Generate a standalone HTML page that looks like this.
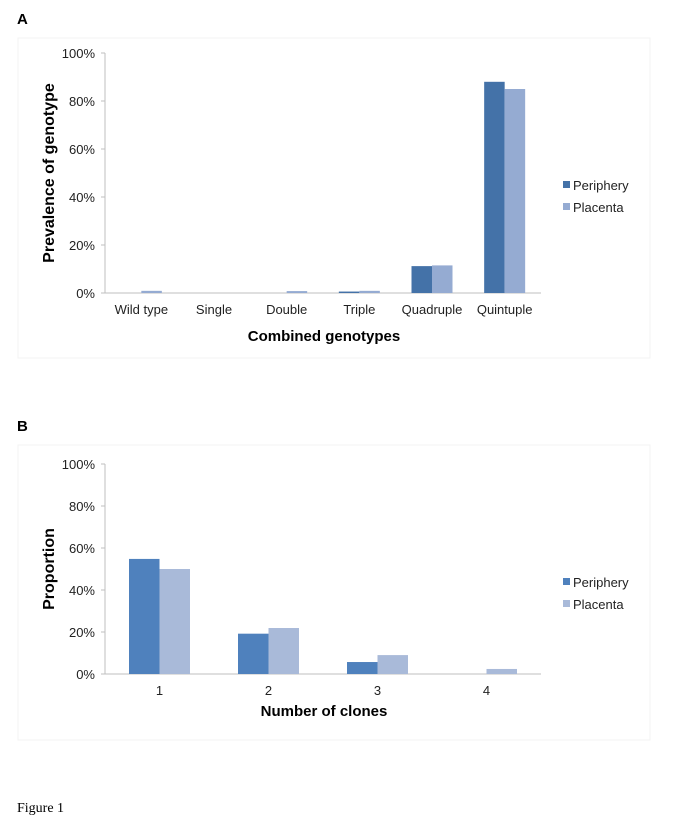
<!DOCTYPE html>
<html><head><meta charset="utf-8"><style>
body{margin:0;background:#fff;font-family:"Liberation Sans",sans-serif;}
svg{display:block}
</style></head><body>
<svg width="685" height="820" xmlns="http://www.w3.org/2000/svg">
<rect x="18" y="38" width="632" height="320" fill="none" stroke="#f3f3f3"/>
<rect x="18" y="445" width="632" height="295" fill="none" stroke="#f3f3f3"/>
<text x="17" y="24" font-size="15" font-weight="bold">A</text>
<text x="17" y="431" font-size="15" font-weight="bold">B</text>
<text x="17" y="812" font-size="14" font-family="Liberation Serif, serif">Figure 1</text>
<g id="ga"></g><g id="gb"></g>
</svg>
<script>
const catsA=["Wild type","Single","Double","Triple","Quadruple","Quintuple"];
const periA=[0,0,0,0.6,11.2,88];
const placA=[0.9,0,0.8,0.9,11.5,85];
const catsB=["1","2","3","4"];
const periB=[54.8,19.2,5.7,0];
const placB=[50,21.9,9,2.4];
const yTicks=["0%","20%","40%","60%","80%","100%"];
const NS="http://www.w3.org/2000/svg";
function mk(p,t,a){const e=document.createElementNS(NS,t);for(const k in a)e.setAttribute(k,a[k]);p.appendChild(e);return e;}
function chart(g,cats,s1,s2,o){
  const x0=105,x1=541,y0=o.y0,y1=o.y1;
  const ys=v=>y0-(v/100)*(y0-y1);
  const band=(x1-x0)/cats.length;
  const ax=mk(g,'line',{x1:x0,y1:y1,x2:x0,y2:y0,stroke:'#bfbfbf'});
  
  yTicks.forEach((t,i)=>{const y=ys(i*20);
    const tk=mk(g,'line',{x1:x0-4,y1:y,x2:x0,y2:y,stroke:'#bfbfbf'});
    
    const tx=mk(g,'text',{x:x0-10,y:y+5,'font-size':13,'text-anchor':'end',fill:'#222'});tx.textContent=t;
    });
  const xa=mk(g,'line',{x1:x0,y1:y0,x2:x1,y2:y0,stroke:'#bfbfbf'});
  
  cats.forEach((c,i)=>{const cx=x0+band*(i+0.5);
    [[s1,o.c1,-1],[s2,o.c2,0]].forEach(([s,col,off])=>{const v=s[i];
      const r=mk(g,'rect',{x:cx+off*o.bw,y:ys(v),width:o.bw,height:y0-ys(v),fill:col});
      });
    const tx=mk(g,'text',{x:cx,y:o.ty,'font-size':13,'text-anchor':'middle',fill:'#222'});tx.textContent=c;
    });
  const yt=mk(g,'text',{x:0,y:0,'font-size':16,'font-weight':'bold','text-anchor':'middle',transform:`translate(54,${(y0+y1)/2}) rotate(-90)`});
  yt.textContent=o.yl;
  const xt=mk(g,'text',{x:324,y:o.xty,'font-size':15,'font-weight':'bold','text-anchor':'middle'});
  xt.textContent=o.xl;
  [["Periphery",o.c1,o.ly],["Placenta",o.c2,o.ly+22]].forEach(([n,c,y])=>{
    const r=mk(g,'rect',{x:563,y:y-4,width:7,height:7,fill:c});
    
    const t=mk(g,'text',{x:573,y:y+5,'font-size':13,fill:'#222'});t.textContent=n;
    });
}
chart(document.getElementById('ga'),catsA,periA,placA,{y0:293,y1:53,bw:20.5,c1:'#4472a8',c2:'#95abd2',ty:314,yl:'Prevalence of genotype',xl:'Combined genotypes',xty:341,ly:185});
chart(document.getElementById('gb'),catsB,periB,placB,{y0:674,y1:464,bw:30.5,c1:'#4f81bd',c2:'#a9bad9',ty:695,yl:'Proportion',xl:'Number of clones',xty:716,ly:582});
</script>
</body></html>
